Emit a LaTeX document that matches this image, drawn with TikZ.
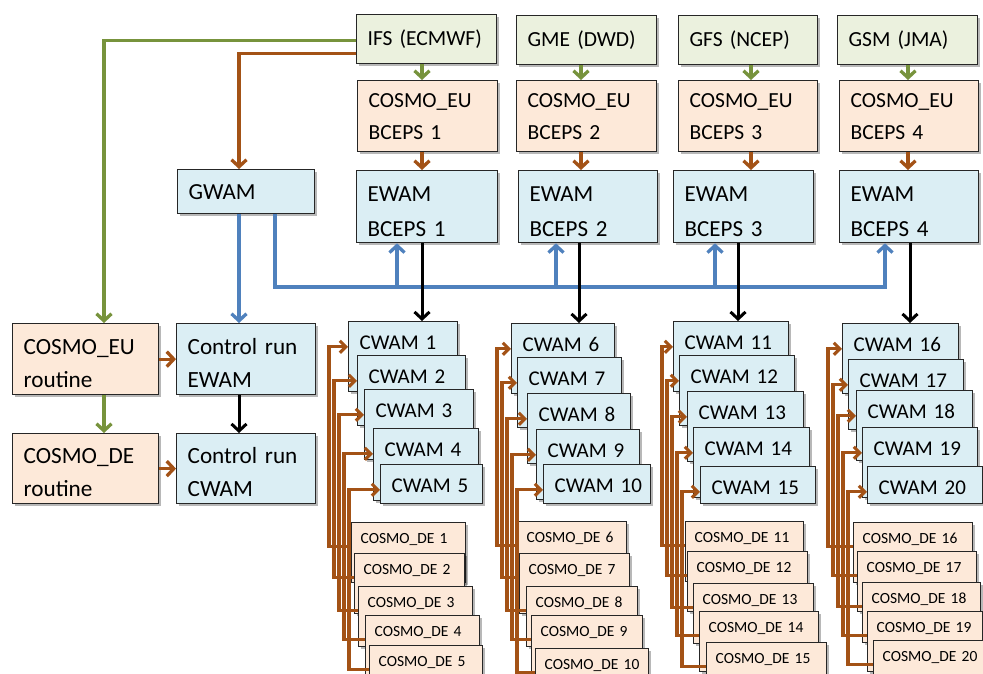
\documentclass[tikz,border=0pt]{standalone}
\usepackage{fontspec}
\setmainfont{Carlito}
\usetikzlibrary{arrows.meta,shadows}
\definecolor{srcfill}{RGB}{235,241,222}
\definecolor{eufill}{RGB}{253,233,217}
\definecolor{wamfill}{RGB}{219,238,244}
\definecolor{grn}{RGB}{119,147,60}
\definecolor{brn}{RGB}{163,82,22}
\definecolor{blu}{RGB}{79,129,189}
\definecolor{edge}{RGB}{38,38,38}
\tikzset{
  boxbase/.style={draw=edge, line width=1.3pt, inner xsep=11pt, inner ysep=0pt,
    align=left, anchor=north west,
    drop shadow={shadow xshift=2.5pt, shadow yshift=-2.5pt, opacity=0.28, fill=black}},
  srcbox/.style={boxbase, fill=srcfill, font=\fontsize{21.5}{33}\selectfont},
  eubox/.style={boxbase, fill=eufill, font=\fontsize{21.5}{32}\selectfont},
  wambox/.style={boxbase, fill=wamfill, font=\fontsize{23}{35}\selectfont},
  ctlbox/.style={boxbase, font=\fontsize{23.2}{33}\selectfont},
  cwambox/.style={boxbase, fill=wamfill, font=\fontsize{21}{25}\selectfont, text height=27.5pt},
  debox/.style={boxbase, fill=eufill, inner xsep=9pt, font=\fontsize{15.5}{19}\selectfont, text height=20.5pt},
  tipbig/.style={-{Straight Barb[length=7pt,width=15pt]}},
  tipsmall/.style={-{Straight Barb[length=6pt,width=12pt]}},
  grnarrow/.style={draw=grn, line width=3.3pt, tipbig},
  brnarrow/.style={draw=brn, line width=3.3pt, tipbig},
  bluarrow/.style={draw=blu, line width=3.3pt, tipbig},
  blkarrow/.style={draw=black, line width=3pt, tipbig},
  brk/.style={draw=brn, line width=3.1pt, tipsmall},
}
\newcommand\pbox[7]{%
  \pgfmathsetmacro\boxtw{#5-22}%
  \node[#2, minimum width=#5pt, minimum height=#6pt, text width=\boxtw pt] (#1) at (#3,#4) {#7};}
\newcommand\cwam[6]{%
  \pgfmathsetmacro\boxtw{#4-22}\pgfmathsetmacro\boxtd{#5-27.5}%
  \node[cwambox, minimum width=#4pt, text width=\boxtw pt, text depth=\boxtd pt] (#1) at (#2,#3) {\mbox{CWAM #6}};}
\newcommand\cde[6]{%
  \pgfmathsetmacro\boxtw{#4-18}\pgfmathsetmacro\boxtd{#5-20.5}%
  \node[debox, minimum width=#4pt, text width=\boxtw pt, text depth=\boxtd pt] (#1) at (#2,#3) {\mbox{COSMO\_DE #6}};}
\newcommand\lowr[1]{\rule{0pt}{#1pt}}
\begin{document}
\begin{tikzpicture}[x=1pt,y=-1pt]
\clip (0,0) rectangle (983,674);
\fill[white] (0,0) rectangle (983,674);

% column x positions for connectors
\coordinate (gx) at (104,0);
\coordinate (cx) at (239,0);
\coordinate (bx) at (275,0);
\coordinate (a1) at (422,0);
\coordinate (a2) at (581,0);
\coordinate (a3) at (751,0);
\coordinate (a4) at (908,0);
\coordinate (k1) at (422,0);
\coordinate (k2) at (579,0);
\coordinate (k3) at (738,0);
\coordinate (k4) at (910,0);
\coordinate (b1) at (397,287);
\coordinate (b2) at (556,287);
\coordinate (b3) at (715,287);
\coordinate (b4) at (885,287);

% top sources
\pbox{ifs}{srcbox}{356}{14}{140}{49}{IFS (ECMWF)}
\pbox{gme}{srcbox}{516}{15}{140}{49}{GME (DWD)}
\pbox{gfs}{srcbox}{678}{15}{139}{49}{GFS (NCEP)}
\pbox{gsm}{srcbox}{837}{15}{140}{49}{GSM (JMA)}
% COSMO_EU BCEPS
\pbox{ce1}{eubox}{357}{80}{140}{71}{COSMO\_EU\\BCEPS 1}
\pbox{ce2}{eubox}{516}{80}{140}{71}{COSMO\_EU\\BCEPS 2}
\pbox{ce3}{eubox}{678}{80}{139}{71}{COSMO\_EU\\BCEPS 3}
\pbox{ce4}{eubox}{839}{80}{139}{71}{COSMO\_EU\\BCEPS 4}
% EWAM BCEPS
\pbox{ew1}{wambox}{356}{170}{141}{72}{\lowr{24}EWAM\\BCEPS 1}
\pbox{ew2}{wambox}{518}{170}{139}{72}{\lowr{24}EWAM\\BCEPS 2}
\pbox{ew3}{wambox}{673}{170}{140}{72}{\lowr{24}EWAM\\BCEPS 3}
\pbox{ew4}{wambox}{839}{170}{139}{72}{\lowr{24}EWAM\\BCEPS 4}
% GWAM
\pbox{gwam}{wambox}{177}{169}{137}{44}{GWAM}
% left column
\pbox{eur}{ctlbox,fill=eufill}{12}{323}{146}{71}{\lowr{23}COSMO\_EU\\routine}
\pbox{der}{ctlbox,fill=eufill}{12}{433}{146}{70}{\lowr{23}COSMO\_DE\\routine}
\pbox{cre}{ctlbox,fill=wamfill}{176}{323}{139}{71}{\lowr{23}Control run\\EWAM}
\pbox{crc}{ctlbox,fill=wamfill}{176}{433}{139}{70}{\lowr{23}Control run\\CWAM}

% CWAM stacks
\cwam{cw1}{348}{321}{109}{70}{1}
\cwam{cw2}{357}{355}{108}{70}{2}
\cwam{cw3}{364}{389}{109}{70}{3}
\cwam{cw4}{373}{428}{105}{72}{4}
\cwam{cw5}{380}{464}{102}{39}{5}
\cwam{cw6}{511}{323}{103}{70}{6}
\cwam{cw7}{517}{357}{104}{70}{7}
\cwam{cw8}{527}{393}{103}{70}{8}
\cwam{cw9}{536}{429}{103}{70}{9}
\cwam{cw10}{543}{464}{107}{39}{10}
\cwam{cw11}{673}{321}{115}{70}{11}
\cwam{cw12}{679}{355}{115}{70}{12}
\cwam{cw13}{687}{391}{116}{70}{13}
\cwam{cw14}{693}{427}{116}{70}{14}
\cwam{cw15}{700}{466}{115}{37}{15}
\cwam{cw16}{842}{323}{116}{70}{16}
\cwam{cw17}{848}{359}{115}{70}{17}
\cwam{cw18}{856}{390}{116}{70}{18}
\cwam{cw19}{862}{427}{115}{70}{19}
\cwam{cw20}{867}{466}{115}{37}{20}

% COSMO_DE stacks
\cde{de1}{351}{522}{114}{60}{1}
\cde{de2}{354}{553}{110}{60}{2}
\cde{de3}{358}{586}{114}{60}{3}
\cde{de4}{365}{615}{114}{60}{4}
\cde{de5}{369}{645}{113}{40}{5}
\cde{de6}{517}{521}{109}{60}{6}
\cde{de7}{519}{553}{110}{60}{7}
\cde{de8}{526}{586}{111}{60}{8}
\cde{de9}{531}{615}{111}{60}{9}
\cde{de10}{535}{648}{113}{40}{10}
\cde{de11}{685}{521}{118}{60}{11}
\cde{de12}{687}{551}{120}{60}{12}
\cde{de13}{693}{583}{120}{60}{13}
\cde{de14}{699}{611}{119}{60}{14}
\cde{de15}{706}{642}{120}{40}{15}
\cde{de16}{853}{522}{119}{60}{16}
\cde{de17}{857}{551}{119}{60}{17}
\cde{de18}{862}{582}{118}{60}{18}
\cde{de19}{867}{611}{115}{60}{19}
\cde{de20}{873}{640}{115}{40}{20}

% connectors from IFS
\draw[grnarrow] ([yshift=-1.5pt]ifs.west) -| (gx |- eur.north);
\draw[brnarrow] ([yshift=-14.5pt]ifs.west) -| (cx |- gwam.north);
% sources -> COSMO_EU BCEPS
\draw[grnarrow] (a1 |- ifs.south) -- (a1 |- ce1.north);
\draw[grnarrow] (a2 |- gme.south) -- (a2 |- ce2.north);
\draw[grnarrow] (a3 |- gfs.south) -- (a3 |- ce3.north);
\draw[grnarrow] (a4 |- gsm.south) -- (a4 |- ce4.north);
% COSMO_EU BCEPS -> EWAM
\draw[brnarrow] (a1 |- ce1.south) -- (a1 |- ew1.north);
\draw[brnarrow] (a2 |- ce2.south) -- (a2 |- ew2.north);
\draw[brnarrow] (a3 |- ce3.south) -- (a3 |- ew3.north);
\draw[brnarrow] (a4 |- ce4.south) -- (a4 |- ew4.north);
% GWAM blue
\draw[bluarrow] (cx |- gwam.south) -- (cx |- cre.north);
\draw[bluarrow] (bx |- gwam.south) |- (b4) -- (b4 |- ew4.south);
\draw[bluarrow] (b1) -- (b1 |- ew1.south);
\draw[bluarrow] (b2) -- (b2 |- ew2.south);
\draw[bluarrow] (b3) -- (b3 |- ew3.south);
% EWAM -> CWAM
\draw[blkarrow] (k1 |- ew1.south) -- (k1 |- cw1.north);
\draw[blkarrow] (k2 |- ew2.south) -- (k2 |- cw6.north);
\draw[blkarrow] (k3 |- ew3.south) -- (k3 |- cw11.north);
\draw[blkarrow] (k4 |- ew4.south) -- (k4 |- cw16.north);
% left column
\draw[grnarrow] (gx |- eur.south) -- (gx |- der.north);
\draw[brnarrow] (eur.east) -- (cre.west);
\draw[brnarrow] (der.east) -- (crc.west);
\draw[blkarrow] (cx |- cre.south) -- (cx |- crc.north);

% brackets COSMO_DE -> CWAM
\foreach \c/\vx in {0/329,1/497,2/662,3/828}{
  \foreach \k in {1,...,5}{
    \pgfmathtruncatemacro\n{5*\c+\k}
    \pgfmathsetmacro\xx{\vx+5*(\k-1)}
    \coordinate (v\n) at (\xx,0);
  }
}
\foreach \n in {1,...,20}{
  \draw[brk] ([yshift=-3.5pt]de\n.base west) -| (v\n |- cw\n.mid west) -- (cw\n.mid west);
}
\end{tikzpicture}
\end{document}
